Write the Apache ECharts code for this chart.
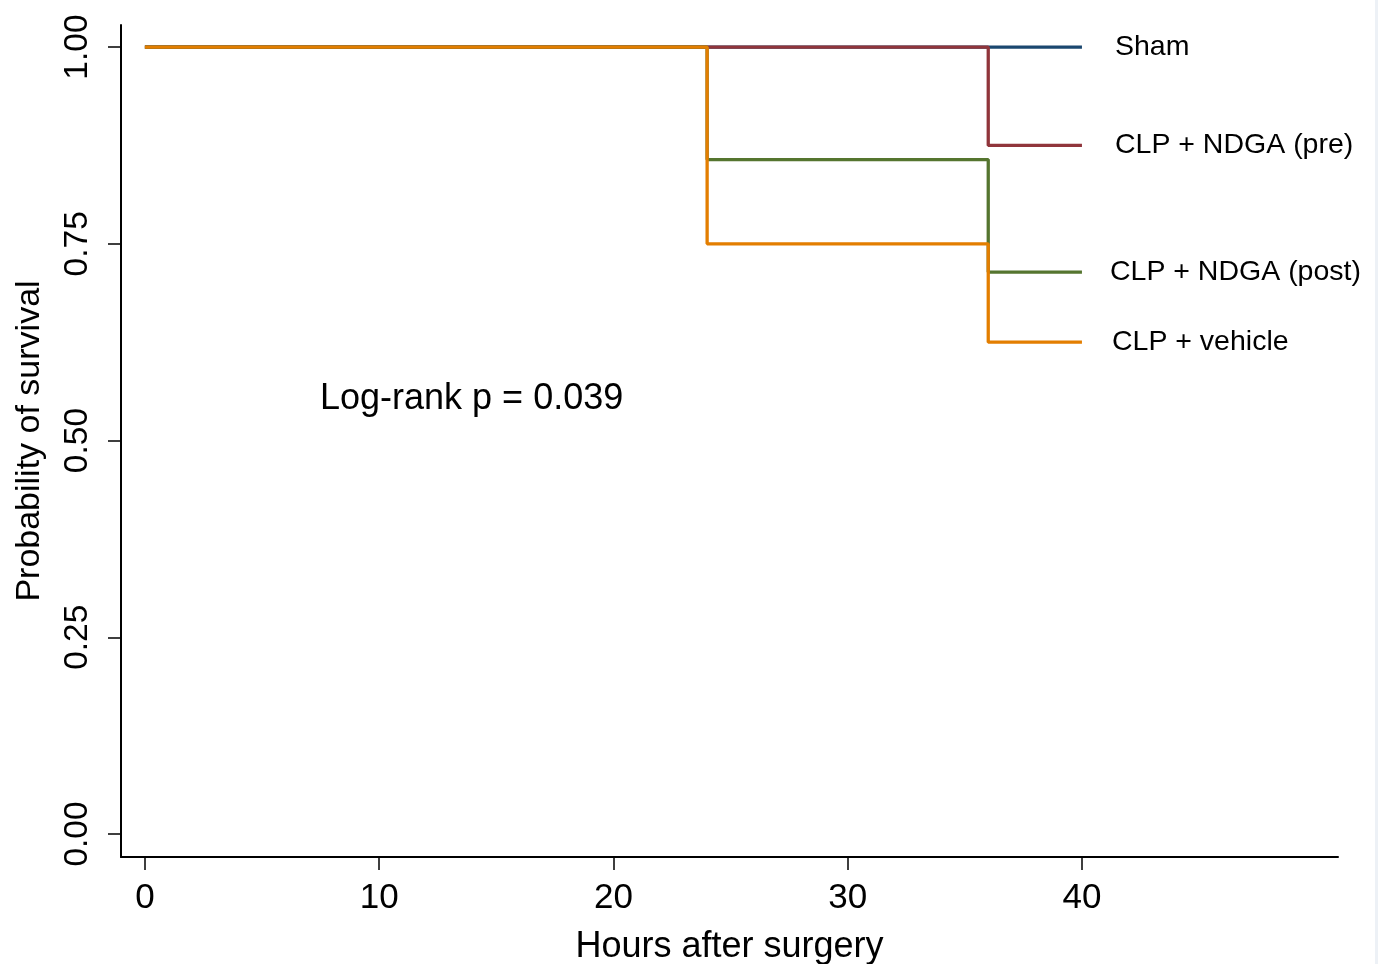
<!DOCTYPE html>
<html>
<head>
<meta charset="utf-8">
<script src="https://cdn.jsdelivr.net/npm/echarts@6/dist/echarts.min.js"></script>
<style>html,body{margin:0;padding:0;background:#fff}#c{width:1378px;height:964px}</style>
</head>
<body>
<div id="c"></div>
<script>
// Data: Kaplan-Meier step points [hours, survival probability]
const groupNames = ['Sham', 'CLP + NDGA (pre)', 'CLP + NDGA (post)', 'CLP + vehicle'];
const shamPts    = [[0, 1], [40, 1]];
const prePts     = [[0, 1], [36, 0.875], [40, 0.875]];
const postPts    = [[0, 1], [24, 0.857], [36, 0.714], [40, 0.714]];
const vehiclePts = [[0, 1], [24, 0.75], [36, 0.625], [40, 0.625]];
const xTicks = [0, 10, 20, 30, 40];
const yTicks = [0, 0.25, 0.5, 0.75, 1];
const annotation = 'Log-rank p = 0.039';

const colors = ['#1a476f', '#90353b', '#55752f', '#e37e00'];
const seriesData = [shamPts, prePts, postPts, vehiclePts];
const labelDist = [33, 33, 28, 30];

const FONT = '"Liberation Sans", Arial, sans-serif';
const chart = echarts.init(document.getElementById('c'));
chart.setOption({
  animation: false,
  backgroundColor: '#ffffff',
  grid: { left: 121, right: 40, top: 25, bottom: 107, containLabel: false, outerBoundsMode: 'none' },
  xAxis: {
    type: 'value', min: -1.02, max: 50.93,
    name: 'Hours after surgery', nameLocation: 'middle', nameGap: 72,
    nameTextStyle: { fontFamily: FONT, fontSize: 36, color: '#000' },
    axisLine: { show: true, onZero: false, lineStyle: { color: '#000', width: 2 } },
    axisTick: { show: true, length: 13, lineStyle: { color: '#000', width: 1.5 }, customValues: xTicks },
    axisLabel: { fontFamily: FONT, fontSize: 35, color: '#000', margin: 24, customValues: xTicks },
    splitLine: { show: false }
  },
  yAxis: {
    type: 'value', min: -0.0292, max: 1.028,
    name: 'Probability of survival', nameLocation: 'middle', nameGap: 74,
    nameTextStyle: { fontFamily: FONT, fontSize: 34, color: '#000' },
    axisLine: { show: true, onZero: false, lineStyle: { color: '#000', width: 2 } },
    axisTick: { show: true, length: 13, lineStyle: { color: '#000', width: 1.5 }, customValues: yTicks },
    axisLabel: { fontFamily: FONT, fontSize: 33.5, color: '#000', margin: 26, rotate: 90,
                 customValues: yTicks, formatter: v => v.toFixed(2) },
    splitLine: { show: false }
  },
  series: seriesData.map((d, i) => ({
    type: 'line', name: groupNames[i], data: d, step: 'end',
    symbol: 'none', z: 2 + i,
    lineStyle: { color: colors[i], width: 3.3 },
    endLabel: { show: true, formatter: groupNames[i], distance: labelDist[i],
                fontFamily: FONT, fontSize: 28.5, color: '#000' }
  })),
  graphic: [
    { type: 'text', left: 320, top: 381, style: { text: annotation, font: '36px ' + FONT, fill: '#000' } },
    { type: 'rect', shape: { x: 1375, y: 0, width: 3, height: 964 }, style: { fill: '#edf1f6' } }
  ]
});
</script>
</body>
</html>
